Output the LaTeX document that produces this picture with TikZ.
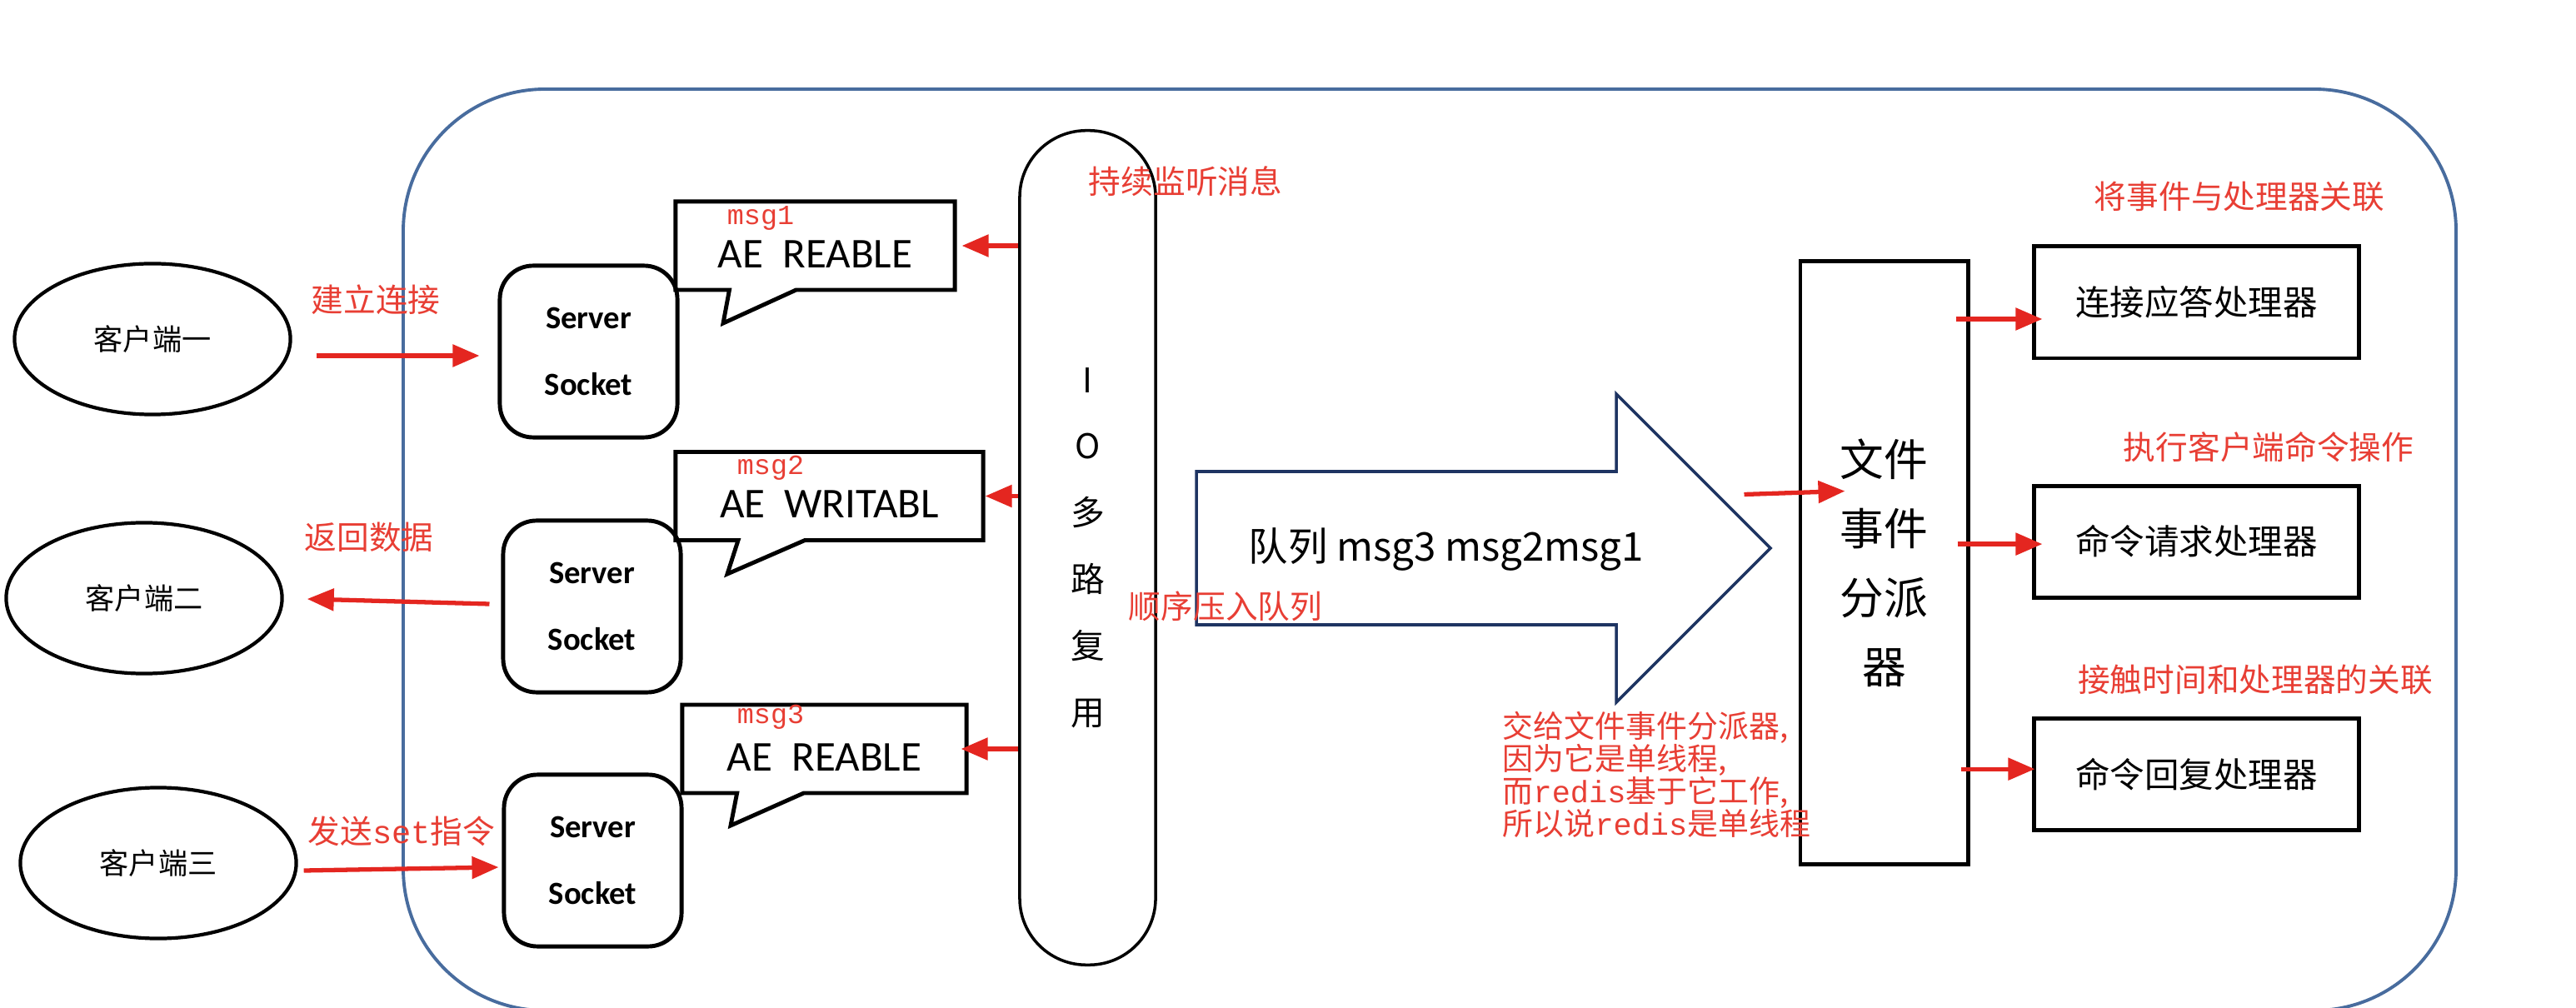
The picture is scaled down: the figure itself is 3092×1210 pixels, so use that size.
\documentclass[tikz,border=0pt]{standalone}
\usepackage{fontspec}
\usepackage{xcolor}
\usepackage{tikz}
\usetikzlibrary{shapes.geometric, shapes.callouts, arrows.meta, positioning, calc}
\newfontfamily\cjk{Noto Sans CJK SC}
\newfontfamily\calib{Carlito}
\newfontfamily\lmono{Liberation Mono}
\definecolor{redline}{RGB}{228,38,32}
\definecolor{redtxt}{RGB}{232,62,52}
\definecolor{frameblue}{RGB}{72,108,158}
\definecolor{navy}{RGB}{30,52,98}
\tikzset{
  client/.style={ellipse, draw=black, line width=1.2pt, minimum width=3.31cm,
                 minimum height=1.81cm, font=\cjk\fontsize{10}{12}\selectfont},
  sock/.style={rectangle, rounded corners=0.4cm, draw=black, line width=1.4pt,
               minimum width=2.13cm, minimum height=2.06cm, align=center,
               font=\calib\bfseries\fontsize{11}{22.7}\selectfont},
  bubble/.style={rectangle callout, draw=black, line width=1.4pt,
                 callout pointer width=0.8cm, minimum height=1.06cm,
                 text height=0.6cm, text depth=0.08cm,
                 font=\calib\fontsize{14.5}{16}\selectfont},
  handler/.style={rectangle, draw=black, line width=1.4pt, minimum width=3.89cm,
                  minimum height=1.34cm, font=\cjk\fontsize{11.8}{14}\selectfont},
  rarr/.style={-{Triangle[length=0.32cm,width=0.26cm]}, line width=1.5pt, draw=redline},
  note/.style={font=\cjk\fontsize{11}{12}\selectfont, text=redtxt, inner sep=0pt},
  msg/.style={font=\lmono\fontsize{9.5}{11}\selectfont, text=redtxt, inner sep=0pt},
}
\begin{document}
\begin{tikzpicture}[x=0.01cm, y=-0.01cm,
    frame/.style={draw=frameblue, line width=1.1pt, rounded corners=1.7cm},
    pill/.style={rectangle, draw=black, line width=1pt, rounded corners=0.8cm,
                 minimum width=1.63cm, minimum height=10.01cm, align=center,
                 font=\cjk\fontsize{11.6}{22.7}\selectfont},
    dispbox/.style={rectangle, draw=black, line width=1.4pt, minimum width=2.01cm,
                    minimum height=7.23cm, align=center,
                    font=\cjk\fontsize{15}{23.6}\selectfont},
    bigarrow/.style={draw=navy, line width=1pt},
  ]
  \path[use as bounding box, fill=white] (0,0) rectangle (3092,1210);
  \draw[frame] (484,107) rectangle (2948,1213);

  \node[client] (c1) at (183,407)  {客户端一};
  \node[client] (c2) at (173,718)  {客户端二};
  \node[client] (c3) at (190,1036) {客户端三};

  \node[sock] (ss1) at (706.5,422)  {Server\\Socket};
  \node[sock] (ss2) at (710.5,728)  {Server\\Socket};
  \node[sock] (ss3) at (711.5,1033) {Server\\Socket};

  \node[bubble, minimum width=3.35cm, callout absolute pointer={(868,388)}]
    (cb1) at (978.5,295) {AE~~REABLE};
  \node[bubble, minimum width=3.69cm, callout absolute pointer={(873,689)}]
    (cb2) at (995.5,595.5) {AE~~WRITABL};
  \node[bubble, minimum width=3.41cm, callout absolute pointer={(877,991)}]
    (cb3) at (989.5,899) {AE~~REABLE};
  \node[msg] (m1) at (913,262) {msg1};
  \node[msg] (m2) at (925,562) {msg2};
  \node[msg] (m3) at (925,861) {msg3};

  \node[pill] (io) at (1305.5,657.5) {I\\O\\多\\路\\复\\用};

  \draw[bigarrow] (1436,566) -- (1940,566) -- (1940,473) -- (2125,658)
    -- (1940,843) -- (1940,750) -- (1436,750) -- cycle;
  \node[font=\cjk\fontsize{13.5}{15}\selectfont] (queue) at (1736,660)
    {队列 msg3 msg2msg1};

  \node[dispbox] (disp) at (2261.5,675.5) {文件\\事件\\分派\\器};

  \node[handler] (h1) at (2636.5,363) {连接应答处理器};
  \node[handler, below=1.48cm of h1] (h2) {命令请求处理器};
  \node[handler, below=1.40cm of h2] (h3) {命令回复处理器};

  \node[note] (l1) at (451,360)  {建立连接};
  \node[note] (l2) at (443,645)  {返回数据};
  \node[note] (l3) at (482,998)  {发送{\lmono set}指令};
  \node[note] (l4) at (1423,218) {持续监听消息};
  \node[note] (l5) at (1471,728) {顺序压入队列};
  \node[note, anchor=north west, align=left, font=\cjk\fontsize{10.5}{11.1}\selectfont]
    (l6) at (1803,853)
    {交给文件事件分派器,\\因为它是单线程,\\而{\lmono redis}基于它工作,\\所以说{\lmono redis}是单线程};
  \node[note] (l7) at (2688,236) {将事件与处理器关联};
  \node[note] (l8) at (2723,537) {执行客户端命令操作};
  \node[note] (l9) at (2707,816) {接触时间和处理器的关联};

  \draw[rarr] ($(c1.east)+(29,20)$) -- ($(ss1.west)+(-22,5)$);
  \draw[rarr] ($(ss2.west)+(-14,-3)$) -- ($(c2.east)+(28,1)$);
  \draw[rarr] ($(c3.east)+(7,9)$) -- ($(ss3.west)+(-4,8)$);

  \draw[rarr] (cb1.east -| io.west) -- ($(cb1.east)+(6,0)$);
  \draw[rarr] (cb2.east -| io.west) -- ($(cb2.east)+(0,0)$);
  \draw[rarr] (cb3.east -| io.west) -- ($(cb3.east)+(-9,0)$);

  \draw[rarr] ($(disp.west)+(-65,-82)$) -- ($(disp.west)+(56,-86)$);

  \draw[rarr] ($(disp.east |- h1.west)+(-17,20)$) -- ($(h1.west)+(12,20)$);
  \draw[rarr] ($(disp.east |- h2.west)+(-15,3)$) -- ($(h2.west)+(12,3)$);
  \draw[rarr] ($(disp.east |- h3.west)+(-11,-6)$) -- ($(h3.west)+(3,-6)$);
\end{tikzpicture}
\end{document}
